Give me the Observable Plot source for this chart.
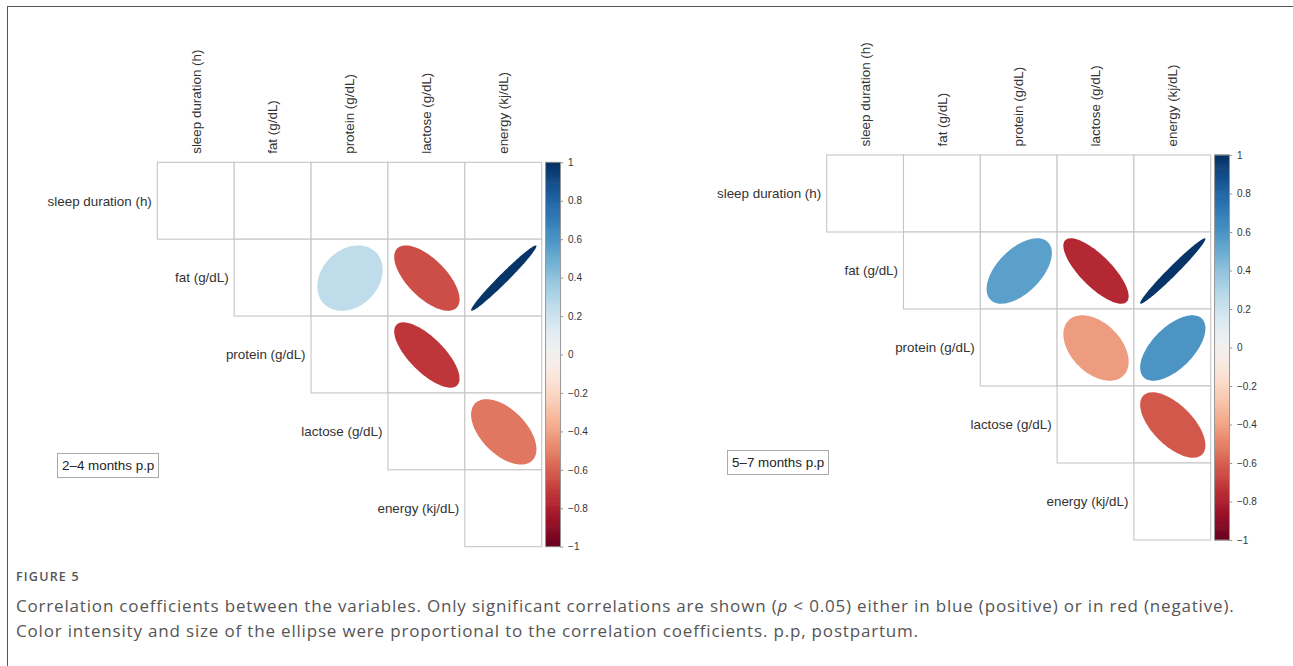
<!DOCTYPE html>
<html><head><meta charset="utf-8">
<script src="https://cdn.jsdelivr.net/npm/d3@7"></script>
<script src="https://cdn.jsdelivr.net/npm/@observablehq/plot@0.6"></script>
<style>
body{margin:0;background:#fff;}
#wrap{position:relative;width:1293px;height:666px;overflow:hidden;font-family:"Liberation Sans",Arial,sans-serif;background:#fff;}
#frame{position:absolute;left:7px;top:6px;width:1300px;height:700px;border-left:1px solid #555;border-top:1px solid #555;}
.panel{position:absolute;top:0;}
.tag{position:absolute;border:1px solid #aaa;font-size:13.4px;color:#222;padding:0 4px;height:23px;line-height:23px;white-space:nowrap;background:#fff;}
#fig{position:absolute;left:16px;top:568px;font-family:"Open Sans";font-size:12.5px;letter-spacing:1.2px;color:#555;font-weight:600;}
#cap{position:absolute;left:16px;top:593px;font-family:"Open Sans";font-size:17px;letter-spacing:0.82px;line-height:25px;color:#555;white-space:nowrap;}
</style></head>
<body><div id="wrap"><div id="frame"></div>
<div class="panel" id="pA" style="left:0px"></div>
<div class="panel" id="pB" style="left:646px"></div>
<div class="tag" style="left:57px;top:453px">2–4 months p.p</div>
<div class="tag" style="left:727px;top:450px">5–7 months p.p</div>
<div id="fig">FIGURE 5</div>
<div id="cap">Correlation coefficients between the variables. Only significant correlations are shown (<i>p</i> &lt; 0.05) either in blue (positive) or in red (negative).<br>Color intensity and size of the ellipse were proportional to the correlation coefficients. p.p, postpartum.</div>
</div>
<script>
const variables = ["sleep duration (h)", "fat (g/dL)", "protein (g/dL)", "lactose (g/dL)", "energy (kj/dL)"];
const colorTicks = [1, 0.8, 0.6, 0.4, 0.2, 0, -0.2, -0.4, -0.6, -0.8, -1];

// 2–4 months p.p
const earlyRow = ["fat (g/dL)", "fat (g/dL)", "fat (g/dL)", "protein (g/dL)", "lactose (g/dL)"];
const earlyCol = ["protein (g/dL)", "lactose (g/dL)", "energy (kj/dL)", "lactose (g/dL)", "energy (kj/dL)"];
const earlyR   = [0.25, -0.65, 0.98, -0.72, -0.53];

// 5–7 months p.p
const lateRow = ["fat (g/dL)", "fat (g/dL)", "fat (g/dL)", "protein (g/dL)", "protein (g/dL)", "lactose (g/dL)"];
const lateCol = ["protein (g/dL)", "lactose (g/dL)", "energy (kj/dL)", "lactose (g/dL)", "energy (kj/dL)", "energy (kj/dL)"];
const lateR   = [0.55, -0.77, 0.98, -0.42, 0.6, -0.62];

const FONT = "'Liberation Sans', Arial, Helvetica, sans-serif";

function panel(rows, cols, rs, xr, yr) {
  const cells = [];
  variables.forEach((_, i) => variables.forEach((_, j) => { if (j >= i) cells.push({r: i, c: j}); }));
  const K = d3.range(121).map(i => i / 120 * 2 * Math.PI);
  const pts = rs.flatMap((r, n) => {
    const a = Math.acos(r);
    const cx = variables.indexOf(cols[n]) + 0.5;
    const cy = variables.indexOf(rows[n]) + 0.5;
    return K.map(k => ({id: n, r, x: cx + 0.425 * Math.cos(k + a / 2), y: cy - 0.425 * Math.cos(k - a / 2)}));
  });
  const step = 0.01;
  const bar = d3.range(200).map(i => -1 + i * step);
  const vy = v => 2.5 * (1 - v);
  const fmt = v => v < 0 ? "\u2212" + Math.abs(v) : String(v);
  const bx1 = 5.05, bx2 = 5.245;
  return Plot.plot({
    width: 646, height: 560, margin: 0,
    x: {domain: [0, 5], range: xr, axis: null},
    y: {domain: [0, 5], range: yr, axis: null},
    color: {type: "linear", scheme: "RdBu", domain: [-1, 1]},
    style: {fontFamily: FONT, fontSize: "13.4px", color: "#333", background: "transparent", overflow: "visible"},
    marks: [
      Plot.rect(cells, {x1: "c", x2: d => d.c + 1, y1: "r", y2: d => d.r + 1, fill: "white", stroke: "#c6c6c6", strokeWidth: 1.1}),
      Plot.line(pts, {x: "x", y: "y", z: "id", fill: "r", stroke: "none", curve: "linear-closed"}),
      Plot.rect(bar, {x1: bx1, x2: bx2, y1: v => vy(v), y2: v => vy(v + step), fill: v => v + step / 2, inset: -0.3}),
      Plot.rect([0], {x1: bx1, x2: bx2, y1: 0, y2: 5, fill: "none", stroke: "#999", strokeWidth: 1}),
      Plot.ruleY(colorTicks, {y: vy, x1: bx2, x2: bx2 + 0.035, stroke: "#999"}),
      Plot.text(colorTicks, {x: bx2, y: vy, dx: 7, text: fmt, textAnchor: "start", fontSize: 10, fill: "#333"}),
      Plot.text(variables, {x: (d, i) => i, y: (d, i) => i + 0.5, dx: -6, text: d => d, textAnchor: "end", fill: "#333"}),
      Plot.text(variables, {x: (d, i) => i + 0.5, y: 0, dy: -9, text: d => d, rotate: -90, textAnchor: "start", fill: "#333"})
    ]
  });
}

document.getElementById("pA").append(panel(earlyRow, earlyCol, earlyR, [157.3, 541.7], [162.3, 546.7]));
document.getElementById("pB").append(panel(lateRow, lateCol, lateR, [180.7, 564.7], [155, 540]));
</script>
</body></html>
